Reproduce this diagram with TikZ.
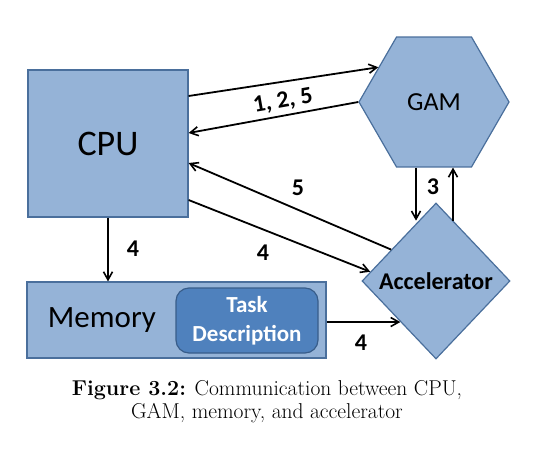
\documentclass[tikz,border=0pt]{standalone}
\usepackage{fontspec}
\setmainfont{Carlito}
\newfontfamily\capfont{Latin Modern Roman}
\usetikzlibrary{shapes.geometric,arrows.meta,calc}
\definecolor{boxfill}{HTML}{95B3D7}
\definecolor{boxline}{HTML}{4A6F9C}
\definecolor{taskfill}{HTML}{4F81BD}
\definecolor{taskline}{HTML}{385D8A}
\tikzset{
  blk/.style={draw=boxline, fill=boxfill, line width=1.2pt, inner sep=0pt},
  arr/.style={draw=black, line width=1.8pt, -{Straight Barb[length=8pt,width=9pt,line width=1.6pt]}},
  num/.style={font=\fontsize{24}{28}\selectfont\bfseries, inner sep=0pt},
}
\begin{document}
\begin{tikzpicture}[x=1pt,y=-1pt]
\useasboundingbox (0,0) rectangle (534,452);
% shapes
\node[blk, rectangle, minimum width=160pt, minimum height=147pt, font=\fontsize{36}{40}\selectfont] (cpu) at (108,143.5) {CPU};
\node[blk, regular polygon, regular polygon sides=6, minimum size=150pt, font=\fontsize{26}{30}\selectfont] (gam) at (434,102) {GAM};
\node[blk, diamond, minimum width=148pt, minimum height=156pt, font=\fontsize{24}{28}\selectfont\bfseries] (acc) at (436,281) {Accelerator};
\node[blk, rectangle, minimum width=299pt, minimum height=76pt] (mem) at (176.5,320) {};
\node[font=\fontsize{31}{34}\selectfont, inner sep=0pt] (memlabel) at (102,320) {Memory};
\node[draw=taskline, fill=taskfill, line width=1.2pt, rounded corners=13pt, minimum width=142pt, minimum height=65pt, text=white, align=center, font=\fontsize{23}{29}\selectfont\bfseries, inner sep=0pt] (task) at (247,320.5) {Task\\Description};
% helper coordinates
\coordinate (gamdl) at ($(gam.south)+(-18,0)$);
\coordinate (gamdr) at ($(gam.south)+(19,0)$);
% arrows
\draw[arr] ([yshift=47.5pt]cpu.east) -- (gam.148);
\draw[arr] (gam.west) -- ([yshift=10.5pt]cpu.east);
\draw[arr] (acc.145) -- ([yshift=-19.5pt]cpu.east);
\draw[arr] ([yshift=-56.5pt]cpu.east) -- (acc.172);
\draw[arr] (cpu.south) -- (cpu.south |- mem.north);
\draw[arr] (acc.229 -| mem.east) -- (acc.229);
\draw[arr] (gamdl) -- (gamdl |- acc.106);
\draw[arr] (gamdr |- acc.74) -- (gamdr);
% labels
\node[num, rotate=10] (l125) at (283,101) {1, 2, 5};
\node[num] (l5) at (298,188) {5};
\node[num] (l4a) at (263,253) {4};
\node[num] (l4b) at (133,249) {4};
\node[num] (l4c) at (361,343) {4};
\node[num] (l3) at (433,187) {3};
% caption
\node[font=\capfont\fontsize{21.5}{23}\selectfont, align=center, inner sep=0pt] (cap) at (267,402) {\textbf{Figure 3.2:} Communication between CPU,\\GAM, memory, and accelerator};
\end{tikzpicture}
\end{document}
